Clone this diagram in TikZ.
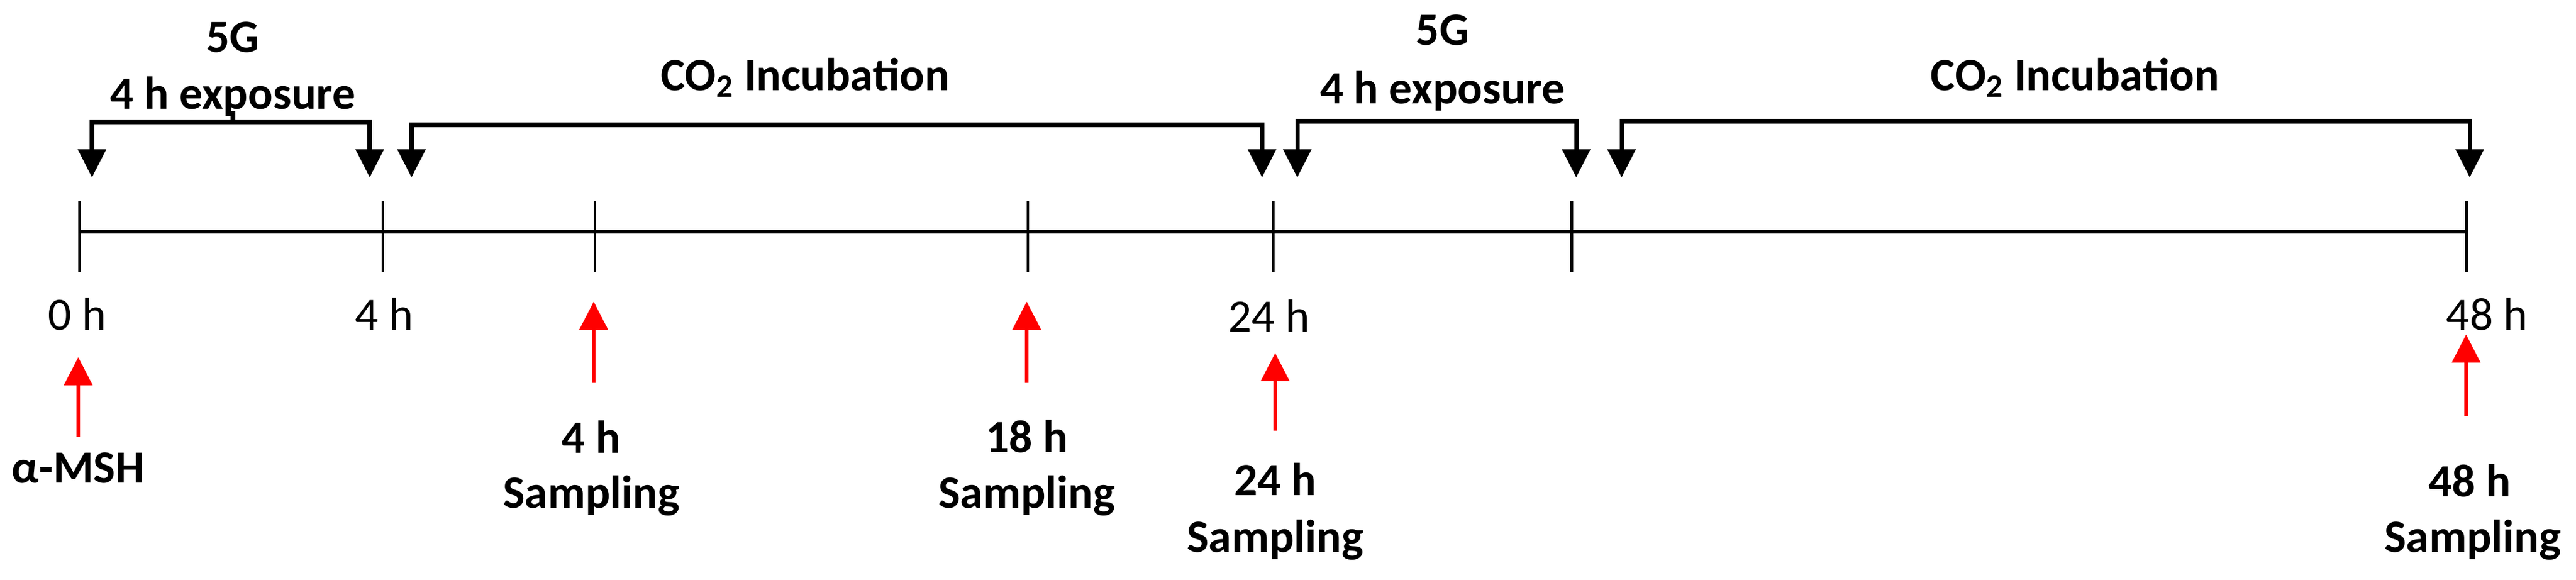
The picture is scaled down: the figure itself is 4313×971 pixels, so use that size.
\documentclass[tikz,border=0pt]{standalone}
\usepackage{fontspec}
\setmainfont{Carlito}
\usetikzlibrary{arrows.meta}
\begin{document}
\begin{tikzpicture}[x=0.01cm,y=-0.01cm,
  brk/.style={line width=2pt,{Triangle[width=0.46cm,length=0.47cm]}-{Triangle[width=0.46cm,length=0.47cm]}},
  redarr/.style={red,line width=1.5pt,-{Triangle[width=0.47cm,length=0.47cm]}},
  tk/.style={line width=1.4pt},
  lbl/.style={font=\fontsize{22}{26}\selectfont,inner sep=0pt},
  blbl/.style={font=\fontsize{22}{26}\selectfont\bfseries,inner sep=0pt,align=center}]
\useasboundingbox (0,0) rectangle (4313,971);
% timeline
\coordinate (t0) at (133,388);
\coordinate (t4) at (641,388);
\coordinate (t4s) at (996,388);
\coordinate (t18) at (1721,388);
\coordinate (t24) at (2132,388);
\coordinate (t28) at (2631,388);
\coordinate (t48) at (4129,388);
\draw[line width=1.7pt] (t0) -- (t48);
\foreach \t in {t0,t4,t4s,t18,t24,t28,t48}
  \draw[tk] (\t) ++(0,-51) -- ++(0,118);
% brackets
\coordinate (b1a) at (154,297); \coordinate (b1b) at (619,297);
\draw[brk] (b1a) |- (390,204) -| (b1b);
\draw[line width=2pt] (390,204) -- (390,186);
\coordinate (c1a) at (689,297); \coordinate (c1b) at (2113,297);
\draw[brk] (c1a) |- (1400,209) -| (c1b);
\coordinate (b2a) at (2172,297); \coordinate (b2b) at (2639,297);
\draw[brk] (b2a) |- (2400,203) -| (b2b);
\coordinate (c2a) at (2715,297); \coordinate (c2b) at (4135,297);
\draw[brk] (c2a) |- (3400,203) -| (c2b);
% top labels
\node[blbl] (g1) at (390,62) {5G};
\node[blbl] (e1) at (390,161) {4 h exposure};
\node[blbl] (i1) at (1348,130) {CO\textsubscript{2} Incubation};
\node[blbl] (g2) at (2415,50) {5G};
\node[blbl] (e2) at (2415,152) {4 h exposure};
\node[blbl] (i2) at (3474,130) {CO\textsubscript{2} Incubation};
% time labels
\node[lbl] (h0) at (129,526) {0 h};
\node[lbl] (h4) at (643,526) {4 h};
\node[lbl] (h24) at (2125,529) {24 h};
\node[lbl] (h48) at (4164,526) {48 h};
% red arrows
\coordinate (r0a) at (131,731); \coordinate (r0b) at (131,598);
\draw[redarr] (r0a) -- (r0b);
\coordinate (r4a) at (994,641); \coordinate (r4b) at (994,505);
\draw[redarr] (r4a) -- (r4b);
\coordinate (r18a) at (1719,641); \coordinate (r18b) at (1719,505);
\draw[redarr] (r18a) -- (r18b);
\coordinate (r24a) at (2135,721); \coordinate (r24b) at (2135,591);
\draw[redarr] (r24a) -- (r24b);
\coordinate (r48a) at (4129,697); \coordinate (r48b) at (4129,560);
\draw[redarr] (r48a) -- (r48b);
% bottom labels
\node[blbl] (msh) at (131,783) {α-MSH};
\node[blbl] (s4) at (990,731) {4 h};
\node[blbl] (s4b) at (990,830) {Sampling};
\node[blbl] (s18) at (1719,731) {18 h};
\node[blbl] (s18b) at (1719,830) {Sampling};
\node[blbl] (s24) at (2135,802) {24 h};
\node[blbl] (s24b) at (2135,904) {Sampling};
\node[blbl] (s48) at (4135,805) {48 h};
\node[blbl] (s48b) at (4140,904) {Sampling};
\end{tikzpicture}
\end{document}
